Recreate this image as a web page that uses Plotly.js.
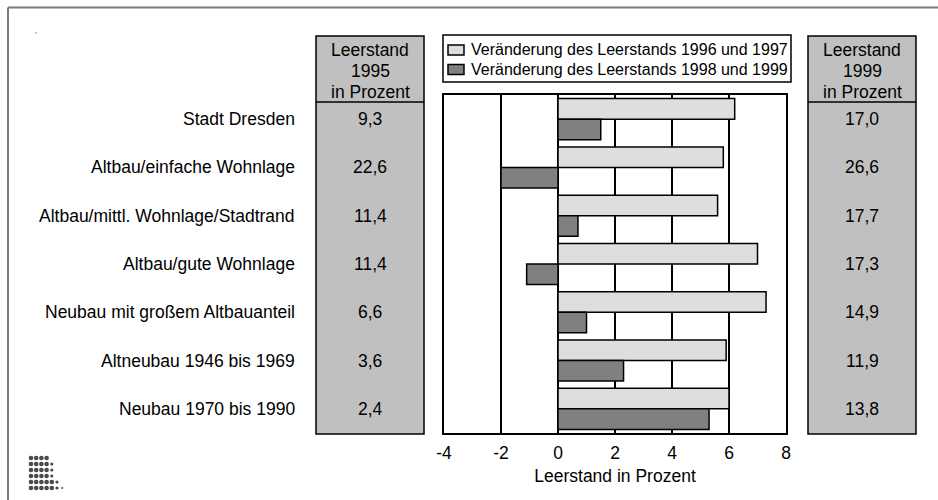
<!DOCTYPE html>
<html>
<head>
<meta charset="utf-8">
<script src="https://cdn.plot.ly/plotly-3.0.1.min.js"></script>
<style>html,body{margin:0;padding:0;background:#fff;}#chart{width:938px;height:500px;}</style>
</head>
<body>
<div id="chart"></div>
<script>
// ---- data ----
const categories = [
  "Stadt Dresden",
  "Altbau/einfache Wohnlage",
  "Altbau/mittl. Wohnlage/Stadtrand",
  "Altbau/gute Wohnlage",
  "Neubau mit großem Altbauanteil",
  "Altneubau 1946 bis 1969",
  "Neubau 1970 bis 1990"
];
const change1996_1997 = [6.2, 5.8, 5.6, 7.0, 7.3, 5.9, 6.0];
const change1998_1999 = [1.5, -2.0, 0.7, -1.1, 1.0, 2.3, 5.3];
const vacancy1995 = ["9,3", "22,6", "11,4", "11,4", "6,6", "3,6", "2,4"];
const vacancy1999 = ["17,0", "26,6", "17,7", "17,3", "14,9", "11,9", "13,8"];
const seriesNames = ["Veränderung des Leerstands 1996 und 1997", "Veränderung des Leerstands 1998 und 1999"];
const header1995 = ["Leerstand", "1995", "in Prozent"];
const header1999 = ["Leerstand", "1999", "in Prozent"];
const xTickValues = [-4, -2, 0, 2, 4, 6, 8];
const xTickLabels = ["-4", "-2", "0", "2", "4", "6", "8"];
const xTitle = "Leerstand in Prozent";
const logoRows = ["oooo", "oooo.", "oooo.", "oooo.", "ooooo.", "ooooo.,"];

// ---- helpers ----
const W = 938, H = 500;
const X = p => p / W;
const Y = p => 1 - p / H;
const FONT = "Liberation Sans, Arial, sans-serif";
const FS = 17.5;
const lightCol = "#dedede", darkCol = "#808080", panelCol = "#c0c0c0";

const traces = [
  {type: "bar", orientation: "h", name: seriesNames[0], y: categories, x: change1996_1997,
   marker: {color: lightCol, line: {color: "#000", width: 1.5}}, hoverinfo: "x"},
  {type: "bar", orientation: "h", name: seriesNames[1], y: categories, x: change1998_1999,
   marker: {color: darkCol, line: {color: "#000", width: 1.5}}, hoverinfo: "x"}
];

const shapes = [];
const annotations = [];

// outer frame (top & left)
shapes.push({type: "line", xref: "paper", yref: "paper", x0: X(8), x1: X(938), y0: Y(7.5), y1: Y(7.5), line: {color: "#7a7a7a", width: 2}});
shapes.push({type: "line", xref: "paper", yref: "paper", x0: X(8), x1: X(8), y0: Y(7.5), y1: Y(500), line: {color: "#7a7a7a", width: 2}});

// side panels
function panel(x0, x1, header, values) {
  shapes.push({type: "rect", xref: "paper", yref: "paper", x0: X(x0), x1: X(x1), y0: Y(36), y1: Y(434),
    fillcolor: panelCol, line: {color: "#000", width: 1.5}, layer: "below"});
  shapes.push({type: "line", xref: "paper", yref: "paper", x0: X(x0), x1: X(x1), y0: Y(102), y1: Y(102),
    line: {color: "#000", width: 1.5}});
  const cx = X((x0 + x1) / 2);
  const hy = [50, 71, 92];
  header.forEach((t, i) => annotations.push({xref: "paper", yref: "paper", x: cx, y: Y(hy[i]), text: t,
    showarrow: false, xanchor: "center", yanchor: "middle", font: {family: FONT, size: FS, color: "#000"}}));
  values.forEach((v, i) => annotations.push({xref: "paper", yref: "y", x: cx, y: categories[i], text: v,
    showarrow: false, xanchor: "center", yanchor: "middle", font: {family: FONT, size: FS, color: "#000"}}));
}
panel(316, 424, header1995, vacancy1995);
panel(808, 916, header1999, vacancy1999);

// category labels
categories.forEach(c => annotations.push({xref: "paper", yref: "y", x: X(297), y: c, text: c,
  showarrow: false, xanchor: "right", yanchor: "middle", font: {family: FONT, size: FS, color: "#000"}}));

// legend box
shapes.push({type: "rect", xref: "paper", yref: "paper", x0: X(443), x1: X(791), y0: Y(35), y1: Y(82),
  fillcolor: "#fff", line: {color: "#000", width: 1.5}});
const legY = [50, 69.5];
[lightCol, darkCol].forEach((col, i) => {
  shapes.push({type: "rect", xref: "paper", yref: "paper", x0: X(448), x1: X(464), y0: Y(legY[i] - 5), y1: Y(legY[i] + 5),
    fillcolor: col, line: {color: "#000", width: 1.5}});
  annotations.push({xref: "paper", yref: "paper", x: X(468.5), y: Y(legY[i]), text: seriesNames[i],
    showarrow: false, xanchor: "left", yanchor: "middle", font: {family: FONT, size: 16, color: "#000"}});
});

// logo dots
logoRows.forEach((row, r) => {
  row.split("").forEach((ch, c) => {
    const rad = ch === "o" ? 2.3 : ch === "." ? 1.6 : 1.0;
    const cx = 31 + c * 5.2, cy = 458 + r * 6;
    shapes.push({type: "circle", xref: "paper", yref: "paper", x0: X(cx - rad), x1: X(cx + rad), y0: Y(cy - rad), y1: Y(cy + rad),
      fillcolor: "#4a4a4a", line: {width: 0}});
  });
});
// tiny speck top-left
shapes.push({type: "rect", xref: "paper", yref: "paper", x0: X(35.5), x1: X(36.5), y0: Y(32.5), y1: Y(33.5), fillcolor: "#333", line: {width: 0}});

const layout = {
  width: W, height: H,
  margin: {l: 0, r: 0, t: 0, b: 0},
  paper_bgcolor: "#fff", plot_bgcolor: "#fff",
  showlegend: false,
  barmode: "group", bargap: 0.15, bargroupgap: 0,
  font: {family: FONT, size: FS, color: "#000"},
  xaxis: {
    domain: [X(444), X(786)], range: [-4, 8],
    tickmode: "array", tickvals: xTickValues, ticktext: xTickLabels,
    showgrid: true, gridcolor: "#000", gridwidth: 1.5,
    zeroline: true, zerolinecolor: "#000", zerolinewidth: 1.5,
    showline: true, mirror: true, linecolor: "#000", linewidth: 2,
    ticks: "", ticklabelstandoff: 3,
    tickfont: {family: FONT, size: FS, color: "#000"},
    title: {text: xTitle, font: {family: FONT, size: FS, color: "#000"}, standoff: 8},
    fixedrange: true
  },
  yaxis: {
    domain: [Y(433), Y(95)], type: "category", autorange: "reversed",
    showticklabels: false, showgrid: false, zeroline: false,
    showline: true, mirror: true, linecolor: "#000", linewidth: 2, ticks: "",
    fixedrange: true
  },
  shapes: shapes,
  annotations: annotations
};

Plotly.newPlot("chart", traces, layout, {displayModeBar: false, staticPlot: true});
</script>
</body>
</html>
